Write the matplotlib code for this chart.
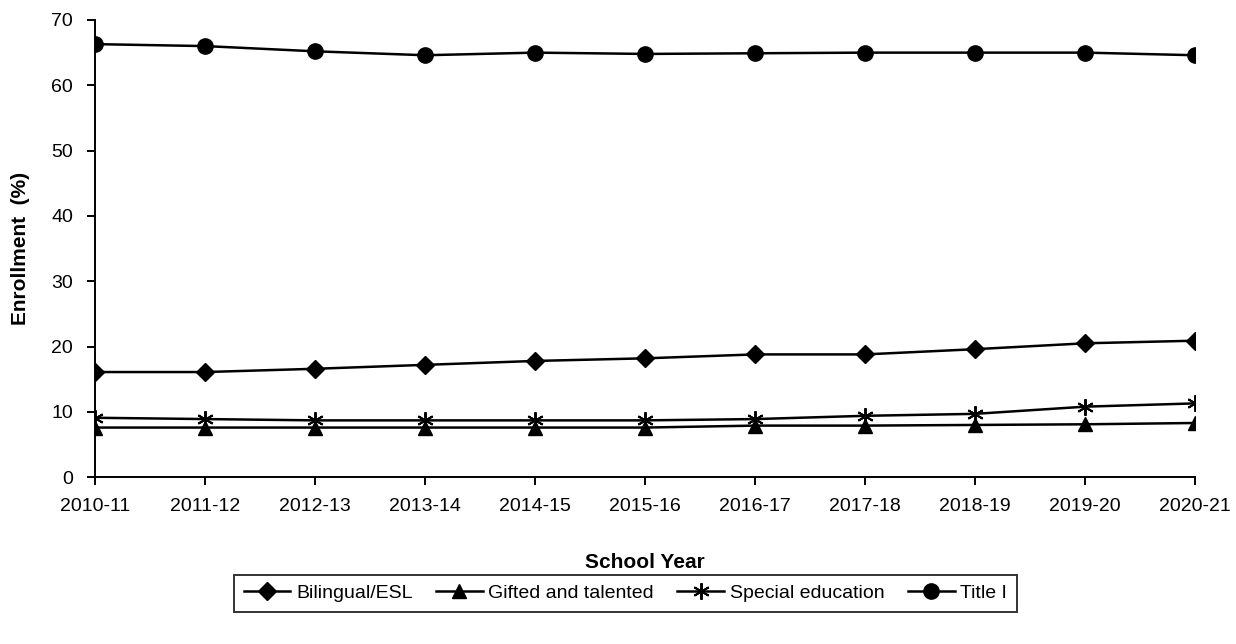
import numpy as np
from matplotlib import pyplot as plt

plt.rcParams['font.family'] = ['Liberation Sans', 'DejaVu Sans']

years = ["2010-11", "2011-12", "2012-13", "2013-14", "2014-15", "2015-16",
         "2016-17", "2017-18", "2018-19", "2019-20", "2020-21"]
bilingual = [16.1, 16.1, 16.6, 17.2, 17.8, 18.2, 18.8, 18.8, 19.6, 20.5, 20.9]
gifted = [7.6, 7.6, 7.6, 7.6, 7.6, 7.6, 7.9, 7.9, 8.0, 8.1, 8.3]
special = [9.1, 8.9, 8.7, 8.7, 8.7, 8.7, 8.9, 9.4, 9.7, 10.8, 11.3]
title1 = [66.3, 66.0, 65.2, 64.6, 65.0, 64.8, 64.9, 65.0, 65.0, 65.0, 64.6]

fig = plt.figure(figsize=(12.36, 6.44), dpi=100)
ax = fig.add_axes([0.077, 0.259, 0.890, 0.710])

x = np.arange(len(years))
ax.plot(x, bilingual, color='black', lw=1.8, marker='D', ms=9, label='Bilingual/ESL')
ax.plot(x, gifted, color='black', lw=1.8, marker='^', ms=10, label='Gifted and talented')
ax.plot(x, special, color='black', lw=1.8, marker=(6, 2, 0), ms=12, mew=1.4,
        label='Special education')
ax.plot(x, title1, color='black', lw=1.8, marker='o', ms=11, label='Title I')

ax.set_xlim(0, len(years) - 1)
ax.set_ylim(0, 70)
ax.set_xticks(x)
ax.set_xticklabels(years)
ax.set_yticks(np.arange(0, 71, 10))
ax.tick_params(labelsize=14, direction='out', length=6, width=1.4, colors='black')
ax.tick_params(axis='x', pad=9)
ax.tick_params(axis='y', pad=10)
ax.spines['top'].set_visible(False)
ax.spines['right'].set_visible(False)
ax.spines['left'].set_linewidth(1.4)
ax.spines['bottom'].set_linewidth(1.4)

ax.set_xlabel("School Year", fontsize=15, fontweight='bold', labelpad=27)
ax.set_ylabel("Enrollment  (%)", fontsize=15, fontweight='bold', labelpad=15)

leg = fig.legend(loc='center', bbox_to_anchor=(0.506, 0.079), ncol=4,
                 fontsize=14, fancybox=False, edgecolor='black',
                 handlelength=2.4, columnspacing=1.2, handletextpad=0.3,
                 borderpad=0.5)
leg.get_frame().set_linewidth(1.4)

plt.savefig("out.png", dpi=100)
